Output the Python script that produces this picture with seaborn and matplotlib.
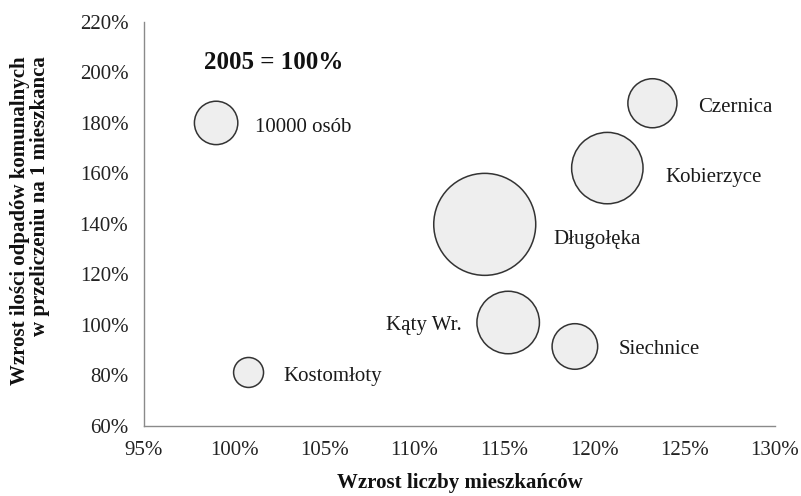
import matplotlib
matplotlib.use("Agg")
import matplotlib.pyplot as plt
import seaborn as sns
import pandas as pd
from matplotlib.ticker import FuncFormatter

# Municipalities around Wrocław: population growth vs. waste-per-capita growth (2005 = 100%)
gminy = ["Czernica", "Kobierzyce", "Długołęka", "Kąty Wr.", "Siechnice", "Kostomłoty"]
wzrost_mieszkancow = [123.2, 120.7, 113.9, 115.2, 118.9, 100.8]
wzrost_odpadow = [187.8, 162.1, 139.8, 100.9, 91.4, 81.1]
liczba_mieszkancow = [11300, 16450, 23500, 14400, 10500, 6900]

# reference bubble for scale
ref_label = "10000 osób"
ref_x = 99.0
ref_y = 180.0
ref_pop = 10000

x_ticks = [95, 100, 105, 110, 115, 120, 125, 130]
y_ticks = [60, 80, 100, 120, 140, 160, 180, 200, 220]

sns.set_style("white")
plt.rcParams["font.family"] = ["Liberation Serif", "DejaVu Serif"]

df = pd.DataFrame({
    "gmina": gminy + [ref_label],
    "x": wzrost_mieszkancow + [ref_x],
    "y": wzrost_odpadow + [ref_y],
    "pop": liczba_mieszkancow + [ref_pop],
})

# bubble diameter proportional to population
diam_pt = 31.25 * df["pop"].to_numpy() / 10000.0
areas = diam_pt ** 2

fig = plt.figure(figsize=(8.01, 4.96), dpi=100)
ax = fig.add_axes([144 / 801, 1 - 425.7 / 496, (775 - 144) / 801, (425.7 - 22) / 496])

sns.scatterplot(data=df, x="x", y="y", s=areas, color="#eeeeee",
                edgecolor="#333333", linewidth=1.1, ax=ax, legend=False, zorder=3)

# label offsets in pixels (dx, dy, horizontal alignment)
offsets = {
    "Czernica": (46, -4.5, "left"),
    "Kobierzyce": (58, -9.5, "left"),
    "Długołęka": (69, -15.5, "left"),
    "Kąty Wr.": (-46, -2.5, "right"),
    "Siechnice": (44, -3.5, "left"),
    "Kostomłoty": (35, -4.5, "left"),
    ref_label: (39, -4.5, "left"),
}
for _, row in df.iterrows():
    dx, dy, ha = offsets[row["gmina"]]
    ax.annotate(row["gmina"], (row["x"], row["y"]), xytext=(dx, dy),
                textcoords="offset pixels", ha=ha, va="center",
                fontsize=15, color="#1a1a1a")

ax.text(0.205, 0.9, "2005 = 100%", transform=ax.transAxes,
        fontsize=18, fontweight="bold", ha="center", va="center", color="#111111")

ax.set_xlim(95, 130)
ax.set_ylim(60, 220)
ax.set_xticks(x_ticks)
ax.set_yticks(y_ticks)
pct = FuncFormatter(lambda v, p: f"{v:.0f}%")
ax.xaxis.set_major_formatter(pct)
ax.yaxis.set_major_formatter(pct)

for side in ["top", "right"]:
    ax.spines[side].set_visible(False)
for side in ["left", "bottom"]:
    ax.spines[side].set_color("#8a8a8a")
    ax.spines[side].set_linewidth(1.0)
ax.tick_params(axis="both", which="major", direction="out", length=4.3, width=1.0,
               color="#8a8a8a", labelsize=15, labelcolor="#222222")
ax.tick_params(axis="y", pad=7)
ax.tick_params(axis="x", pad=6.5)
ax.grid(False)

ax.set_xlabel("Wzrost liczby mieszkańców", fontsize=15, fontweight="bold", color="#111111")
ax.xaxis.set_label_coords(0.5, -(483 - 425.7) / 403.7)
ax.xaxis.label.set_va("center")
ax.set_ylabel("")

fig.text(30 / 801, 1 - 221 / 496,
         "Wzrost ilości odpadów komunalnych\nw przeliczeniu na 1 mieszkanca",
         rotation=90, ha="center", va="center", multialignment="right",
         fontsize=15, fontweight="bold", color="#111111", linespacing=1.05)

fig.savefig("out.png", dpi=100)
